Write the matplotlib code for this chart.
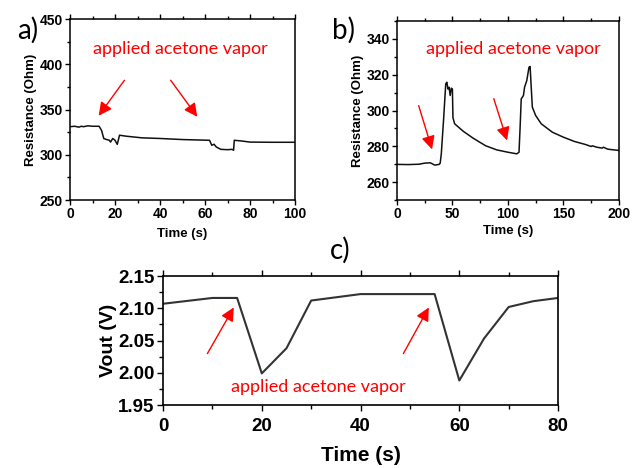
import matplotlib
matplotlib.use('Agg')
import matplotlib.pyplot as plt
from matplotlib.ticker import MultipleLocator

# Panel a data: resistance vs time
t_a = [0, 2, 4, 5, 6, 8, 10, 12.9, 14, 15, 16, 17.5, 18, 19, 20, 21, 22, 25, 32, 40,
       50, 62, 63, 64, 65, 67, 70, 72, 72.7, 73, 76, 80, 90, 100]
r_a = [331, 331.5, 330.5, 331.5, 331, 332, 331.5, 331.5, 327, 318, 317, 316, 314, 318, 316, 311.5, 321.6, 320.5, 318.7, 318,
       316.8, 316, 310.5, 311.6, 308.6, 306, 305.6, 306, 305, 316, 315.3, 314, 313.8, 313.8]

# Panel b data
t_b = [0, 10, 20, 25, 30, 32, 34, 38, 39, 40, 42, 44, 45, 46, 47, 48, 49, 50, 50.5, 52,
       56.8, 60, 68.8, 80, 90, 100, 108, 110, 111, 112, 114, 115, 117, 119, 120, 121, 122,
       125, 130, 140, 150, 160, 170, 175, 176, 180, 185, 186, 190, 200]
r_b = [269.9, 269.8, 270, 270.6, 270.8, 270.2, 269.5, 269.9, 270.6, 275.8, 294.4, 314.9, 315.8, 312, 313, 308.4, 312.5, 312, 296, 292.6,
       290, 288.3, 284.5, 280.3, 278, 276.7, 275.8, 276.7, 290.7, 306.5, 308.4, 313, 316.7, 324.2, 324.6, 313, 301.9,
       297.2, 292.6, 287.9, 285.1, 282.7, 281, 279.9, 280.3, 279.5, 279, 279.5, 278.4, 277.7]

# Panel c data: output voltage
t_c = [0, 10, 15, 20, 25, 30, 40, 55, 60, 65, 70, 75, 80]
v_c = [2.107, 2.116, 2.116, 1.999, 2.038, 2.112, 2.122, 2.122, 1.988, 2.053, 2.102, 2.111, 2.116]

note = 'applied acetone vapor'
tick_font = 'Liberation Sans'
note_font = 'Lato'

fig = plt.figure(figsize=(6.32, 4.68), dpi=100, facecolor='white')

ax1 = fig.add_axes([0.1108, 0.5726, 0.356, 0.3868])
ax2 = fig.add_axes([0.628, 0.5726, 0.3513, 0.3825])
ax3 = fig.add_axes([0.258, 0.1346, 0.625, 0.2756])

arrow = dict(arrowstyle='-|>', color='red', lw=1.0, mutation_scale=20)

# Sub-figure a
ax1.plot(t_a, r_a, color='#111111', lw=1.1)
ax1.set_xlim(0, 100)
ax1.set_ylim(250, 450)
ax1.xaxis.set_major_locator(MultipleLocator(20))
ax1.xaxis.set_minor_locator(MultipleLocator(10))
ax1.yaxis.set_major_locator(MultipleLocator(50))
ax1.yaxis.set_minor_locator(MultipleLocator(25))
ax1.set_xlabel('Time (s)', fontsize=9.5, fontweight='bold', family=tick_font, labelpad=5)
ax1.set_ylabel('Resistance (Ohm)', fontsize=9.5, fontweight='bold', family=tick_font, labelpad=2)
ax1.text(48.9, 417, note, color='red', fontsize=13, family=note_font, ha='center', va='center')
ax1.annotate('', xy=(12, 340.6), xytext=(24.9, 384.8), arrowprops=arrow)
ax1.annotate('', xy=(57.3, 339.5), xytext=(44, 384.8), arrowprops=arrow)

# Sub-figure b
ax2.plot(t_b, r_b, color='#111111', lw=1.1)
ax2.set_xlim(0, 200)
ax2.set_ylim(250, 350)
ax2.xaxis.set_major_locator(MultipleLocator(50))
ax2.xaxis.set_minor_locator(MultipleLocator(25))
ax2.set_yticks([260, 280, 300, 320, 340])
ax2.yaxis.set_minor_locator(MultipleLocator(10))
ax2.set_xlabel('Time (s)', fontsize=9.5, fontweight='bold', family=tick_font, labelpad=3)
ax2.set_ylabel('Resistance (Ohm)', fontsize=9.5, fontweight='bold', family=tick_font, labelpad=2)
ax2.text(104.5, 334.4, note, color='red', fontsize=13, family=note_font, ha='center', va='center')
ax2.annotate('', xy=(32.4, 276.8), xytext=(18.9, 304.2), arrowprops=arrow)
ax2.annotate('', xy=(100, 281.8), xytext=(86.5, 308.1), arrowprops=arrow)

for ax in [ax1, ax2]:
    ax.tick_params(which='both', direction='out', top=True, right=False, width=1.0)
    ax.tick_params(which='major', length=3.5, labelsize=10, pad=1.5)
    ax.tick_params(which='minor', length=2)
    for lab in ax.get_xticklabels() + ax.get_yticklabels():
        lab.set_fontweight('bold')
        lab.set_family(tick_font)
    for sp in ax.spines.values():
        sp.set_linewidth(1.1)

# Sub-figure c
ax3.plot(t_c, v_c, color='#333333', lw=1.5)
ax3.set_xlim(0, 80)
ax3.set_ylim(1.95, 2.15)
ax3.xaxis.set_major_locator(MultipleLocator(20))
ax3.xaxis.set_minor_locator(MultipleLocator(10))
ax3.yaxis.set_major_locator(MultipleLocator(0.05))
ax3.yaxis.set_minor_locator(MultipleLocator(0.025))
ax3.yaxis.set_major_formatter(matplotlib.ticker.FormatStrFormatter('%.2f'))
ax3.tick_params(which='both', direction='out', top=True, right=False, width=1.0)
ax3.tick_params(which='major', length=4, labelsize=13.5, pad=2)
ax3.tick_params(axis='x', which='major', pad=5)
ax3.tick_params(which='minor', length=3)
for lab in ax3.get_xticklabels() + ax3.get_yticklabels():
    lab.set_fontweight('bold')
    lab.set_family(tick_font)
for sp in ax3.spines.values():
    sp.set_linewidth(1.2)
ax3.set_xlabel('Time (s)', fontsize=15, fontweight='bold', family=tick_font, labelpad=8)
ax3.set_ylabel('Vout (V)', fontsize=14, fontweight='bold', family=tick_font, labelpad=1)
ax3.text(31.4, 1.978, note, color='red', fontsize=13, family=note_font, ha='center', va='center')
ax3.annotate('', xy=(14.6, 2.105), xytext=(8.7, 2.026), arrowprops=arrow)
ax3.annotate('', xy=(54.1, 2.105), xytext=(48.4, 2.026), arrowprops=arrow)

# Panel labels
fig.text(28 / 632, 1 - 30 / 468, 'a)', fontsize=20, family=note_font, ha='center', va='center')
fig.text(344 / 632, 1 - 30 / 468, 'b)', fontsize=20, family=note_font, ha='center', va='center')
fig.text(340 / 632, 1 - 250 / 468, 'c)', fontsize=20, family=note_font, ha='center', va='center')

fig.savefig('out.png', dpi=100, facecolor='white')
